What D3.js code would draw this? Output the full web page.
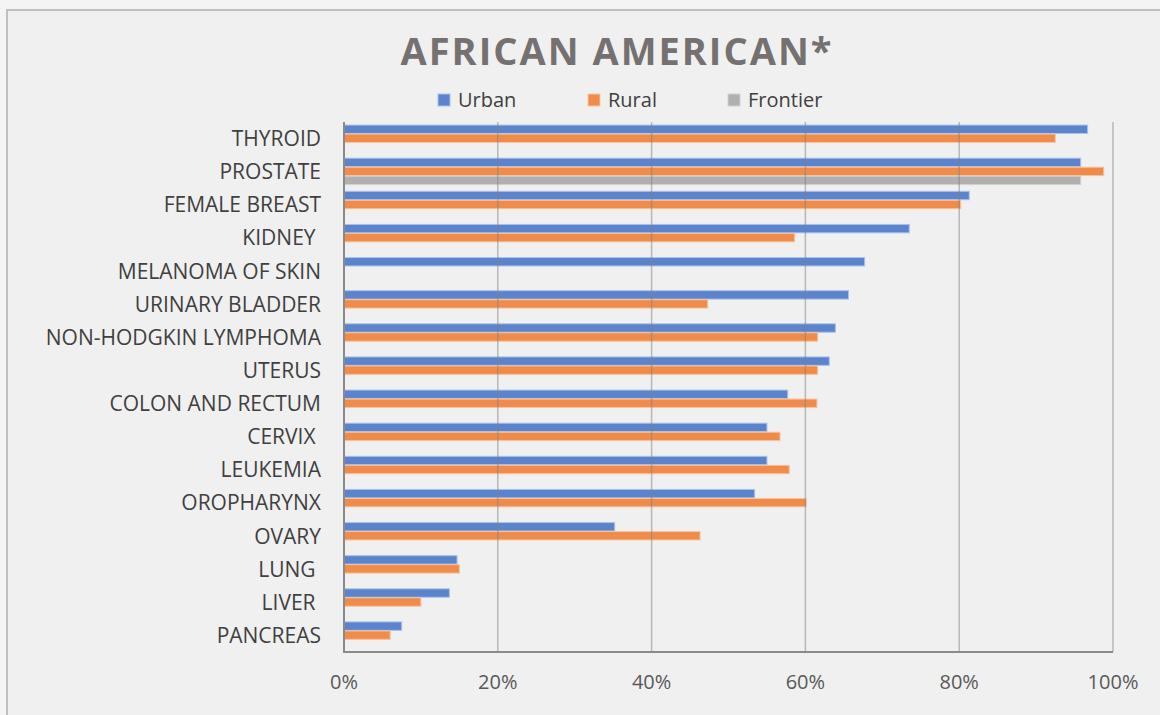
<!DOCTYPE html>
<html>
<head>
<meta charset="utf-8">
<script src="https://cdn.jsdelivr.net/npm/d3@7"></script>
<style>
  body { margin: 0; background: #f4f4f4; }
  text { font-family: "Open Sans", sans-serif; }
</style>
</head>
<body>
<script>
var w = 1160;
var h = 715;

// data (fractions of 1)
var categories = ["THYROID", "PROSTATE", "FEMALE BREAST", "KIDNEY ", "MELANOMA OF SKIN",
  "URINARY BLADDER", "NON-HODGKIN LYMPHOMA", "UTERUS", "COLON AND RECTUM", "CERVIX ",
  "LEUKEMIA", "OROPHARYNX", "OVARY", "LUNG ", "LIVER ", "PANCREAS"];
var seriesNames = ["Urban", "Rural", "Frontier"];
var urban = [0.967, 0.958, 0.813, 0.735, 0.677, 0.656, 0.639, 0.631, 0.577, 0.550,
  0.550, 0.534, 0.352, 0.147, 0.137, 0.075];
var rural = [0.925, 0.988, 0.802, 0.586, null, 0.473, 0.616, 0.616, 0.615, 0.567,
  0.579, 0.601, 0.463, 0.150, 0.100, 0.060];
var frontier = [null, 0.958, null, null, null, null, null, null, null, null,
  null, null, null, null, null, null];
var ticks = [0, 0.2, 0.4, 0.6, 0.8, 1];

var colors = {Urban: "#5b84cc", Rural: "#ef8c4b", Frontier: "#b0b0b0"};
var strokes = {Urban: "#a9c0e8", Rural: "#f7c3a0", Frontier: "#d0d0d0"};

var svg = d3.select("body").append("svg").attr("width", w).attr("height", h);

// chart box (runs past the right/bottom edge of the window)
svg.append("rect").attr("x", 7).attr("y", 10).attr("width", 1220).attr("height", 720)
  .attr("fill", "#f0f0f0").attr("stroke", "#bfbfbf").attr("stroke-width", 2);

var xS = d3.scaleLinear().domain([0, 1]).range([344, 1113]);
var yS = d3.scaleBand().domain(categories).range([122, 652]).paddingInner(0).paddingOuter(0);
var yIn = d3.scaleBand().domain(seriesNames).range([0, yS.bandwidth()]).paddingInner(0).paddingOuter(0.34);

var rows = [];
categories.forEach(function(c, i) {
  var vals = [urban[i], rural[i], frontier[i]];
  seriesNames.forEach(function(s, j) {
    if (vals[j] != null) rows.push({cat: c, s: s, v: vals[j]});
  });
});

svg.append("g").selectAll("rect").data(rows).enter().append("rect")
  .attr("x", xS(0))
  .attr("y", function(d) { return yS(d.cat) + yIn(d.s); })
  .attr("width", function(d) { return xS(d.v) - xS(0); })
  .attr("height", yIn.bandwidth() - 0.6)
  .attr("fill", function(d) { return colors[d.s]; })
  .attr("stroke", function(d) { return strokes[d.s]; })
  .attr("stroke-width", 1);

// gridlines drawn over the bars, semi transparent like the original
svg.append("g").selectAll("line").data(ticks.slice(1)).enter().append("line")
  .attr("x1", function(d) { return xS(d); })
  .attr("x2", function(d) { return xS(d); })
  .attr("y1", 122).attr("y2", 652)
  .attr("stroke", "#808080").attr("stroke-opacity", 0.5).attr("stroke-width", 1.5);

// axis lines
svg.append("line").attr("x1", xS(0)).attr("x2", xS(0)).attr("y1", 122).attr("y2", 652)
  .attr("stroke", "#8a8a8a").attr("stroke-width", 2);
svg.append("line").attr("x1", xS(0) - 1).attr("x2", xS(1)).attr("y1", 652).attr("y2", 652)
  .attr("stroke", "#8a8a8a").attr("stroke-width", 2);

// tick labels
svg.append("g").selectAll("text").data(ticks).enter().append("text")
  .text(function(d) { return d3.format(".0%")(d); })
  .attr("x", function(d) { return xS(d); })
  .attr("y", 689)
  .attr("text-anchor", "middle")
  .attr("font-size", "20px")
  .attr("fill", "#595959");

// category labels
svg.append("g").selectAll("text").data(categories).enter().append("text")
  .text(function(d) { return d; })
  .attr("x", 321)
  .attr("y", function(d) { return yS(d) + yS.bandwidth() / 2; })
  .attr("dy", "0.36em")
  .attr("text-anchor", "end")
  .style("white-space", "pre")
  .attr("font-size", "21px")
  .attr("fill", "#404040");

// title
svg.append("text").text("AFRICAN AMERICAN*")
  .attr("x", 617).attr("y", 65)
  .attr("text-anchor", "middle")
  .attr("font-size", "38px")
  .attr("font-weight", "bold")
  .attr("letter-spacing", "2px")
  .attr("fill", "#767171");

// legend
var legX = [438, 588, 728];
var leg = svg.append("g").selectAll("g").data(seriesNames).enter().append("g")
  .attr("transform", function(d, i) { return "translate(" + legX[i] + ",94)"; });
leg.append("rect").attr("width", 12).attr("height", 12)
  .attr("fill", function(d) { return colors[d]; })
  .attr("stroke", function(d) { return strokes[d]; });
leg.append("text").text(function(d) { return d; })
  .attr("x", 20).attr("y", 13)
  .attr("font-size", "20px")
  .attr("fill", "#404040");
</script>
</body>
</html>
